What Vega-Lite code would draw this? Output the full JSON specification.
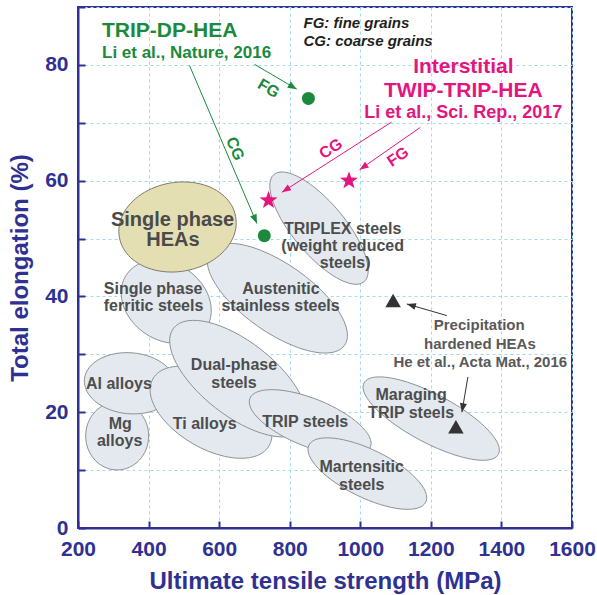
{
  "$schema": "https://vega.github.io/schema/vega-lite/v6.json",
  "width": 494,
  "height": 521,
  "autosize": "none",
  "padding": {"left": 78, "top": 7, "right": 25, "bottom": 67},
  "background": "white",
  "config": {
    "font": "Liberation Sans",
    "view": {"stroke": "#2e3192", "strokeWidth": 2},
    "axis": {
      "domainColor": "#2e3192",
      "domainWidth": 2,
      "tickColor": "#2e3192",
      "tickWidth": 2,
      "labelFont": "Liberation Sans",
      "labelFontSize": 21,
      "labelFontWeight": "bold",
      "labelColor": "#2e3192",
      "labelFlush": false,
      "labelOverlap": false,
      "titleFont": "Liberation Sans",
      "titleFontSize": 24,
      "titleFontWeight": "bold",
      "titleColor": "#2e3192",
      "gridColor": "#a5d9ee",
      "gridDash": [3, 3],
      "gridWidth": 1
    }
  },
  "datasets": {
    "materials": [
      {"material": "Mg alloys", "strength": 311, "elongation": 15.9},
      {"material": "Al alloys", "strength": 348, "elongation": 25.0},
      {"material": "Ti alloys", "strength": 577, "elongation": 20.0},
      {"material": "Single phase ferritic steels", "strength": 450, "elongation": 39.1},
      {"material": "Dual-phase steels", "strength": 654, "elongation": 25.8},
      {"material": "Austenitic stainless steels", "strength": 765, "elongation": 39.7},
      {"material": "TRIPLEX steels", "strength": 883, "elongation": 51.8},
      {"material": "Single phase HEAs", "strength": 482, "elongation": 52.0},
      {"material": "TRIP steels", "strength": 858, "elongation": 18.2},
      {"material": "Martensitic steels", "strength": 1020, "elongation": 9.4},
      {"material": "Maraging TRIP steels", "strength": 1201, "elongation": 18.9}
    ],
    "materialLabels": [
      {"line": "Single phase", "strength": 413, "elongation": 41.2},
      {"line": "ferritic steels", "strength": 414, "elongation": 38.3},
      {"line": "Austenitic", "strength": 775, "elongation": 41.3},
      {"line": "stainless steels", "strength": 774, "elongation": 38.3},
      {"line": "TRIPLEX steels", "strength": 950, "elongation": 51.7},
      {"line": "(weight reduced", "strength": 950, "elongation": 48.7},
      {"line": "steels)", "strength": 957, "elongation": 45.8},
      {"line": "Al alloys", "strength": 316, "elongation": 24.8},
      {"line": "Mg", "strength": 320, "elongation": 17.9},
      {"line": "alloys", "strength": 318, "elongation": 15.1},
      {"line": "Ti alloys", "strength": 559, "elongation": 18.0},
      {"line": "Dual-phase", "strength": 642, "elongation": 28.1},
      {"line": "steels", "strength": 642, "elongation": 25.1},
      {"line": "TRIP steels", "strength": 844, "elongation": 18.3},
      {"line": "Martensitic", "strength": 1004, "elongation": 10.5},
      {"line": "steels", "strength": 1004, "elongation": 7.5},
      {"line": "Maraging", "strength": 1144, "elongation": 22.9},
      {"line": "TRIP steels", "strength": 1144, "elongation": 19.9}
    ],
    "alloys": [
      {"alloy": "TRIP-DP-HEA", "grain": "FG", "strength": 853, "elongation": 74.2},
      {"alloy": "TRIP-DP-HEA", "grain": "CG", "strength": 728, "elongation": 50.5},
      {"alloy": "Interstitial TWIP-TRIP-HEA", "grain": "FG", "strength": 968, "elongation": 60.0},
      {"alloy": "Interstitial TWIP-TRIP-HEA", "grain": "CG", "strength": 740, "elongation": 56.6},
      {"alloy": "Precipitation hardened HEAs", "grain": "", "strength": 1093, "elongation": 39.3},
      {"alloy": "Precipitation hardened HEAs", "grain": "", "strength": 1271, "elongation": 17.5}
    ],
    "arrows": [
      {"arrow": "TRIP-DP-HEA FG", "alloy": "TRIP-DP-HEA", "strength": 700, "elongation": 80.1, "strength2": 820, "elongation2": 75.8},
      {"arrow": "TRIP-DP-HEA CG", "alloy": "TRIP-DP-HEA", "strength": 516, "elongation": 79.9, "strength2": 707, "elongation2": 52.6},
      {"arrow": "Interstitial CG", "alloy": "Interstitial TWIP-TRIP-HEA", "strength": 1088, "elongation": 70.1, "strength2": 778, "elongation2": 58.0},
      {"arrow": "Interstitial FG", "alloy": "Interstitial TWIP-TRIP-HEA", "strength": 1170, "elongation": 69.2, "strength2": 998, "elongation2": 61.9},
      {"arrow": "Precipitation 1", "alloy": "Precipitation hardened HEAs", "strength": 1245, "elongation": 36.7, "strength2": 1132, "elongation2": 38.7},
      {"arrow": "Precipitation 2", "alloy": "Precipitation hardened HEAs", "strength": 1305, "elongation": 26.1, "strength2": 1288, "elongation2": 20.0}
    ]
  },
  "resolve": {"scale": {"shape": "independent"}},
  "layer": [
    {
      "data": {"name": "materials"},
      "mark": {"type": "point", "filled": true, "opacity": 1, "size": 4, "strokeWidth": 1},
      "encoding": {
        "x": {
          "field": "strength",
          "type": "quantitative",
          "scale": {"domain": [200, 1600], "nice": false, "zero": false},
          "axis": {
            "title": "Ultimate tensile strength (MPa)",
            "values": [200, 300, 400, 500, 600, 700, 800, 900, 1000, 1100, 1200, 1300, 1400, 1500, 1600],
            "format": "d",
            "labelExpr": "datum.value % 200 === 0 ? datum.label : ''",
            "tickSize": -7,
            "gridOpacity": {"condition": {"test": "datum.value % 200 === 0", "value": 1}, "value": 0},
            "labelPadding": 17,
            "titlePadding": 10,
            "encode": {"ticks": {"update": {"y2": {"signal": "datum.value % 200 === 0 ? -7 : -4"}}}}
          }
        },
        "y": {
          "field": "elongation",
          "type": "quantitative",
          "scale": {"domain": [0, 90], "nice": false, "zero": false},
          "axis": {
            "title": "Total elongation (%)",
            "values": [0, 10, 20, 30, 40, 50, 60, 70, 80, 90],
            "format": "d",
            "labelExpr": "datum.value % 20 === 0 && datum.value < 90 ? datum.label : ''",
            "tickSize": -7,
            "labelPadding": 17,
            "titlePadding": 12,
            "encode": {"ticks": {"update": {"x2": {"signal": "datum.value % 20 === 0 ? 7 : 4"}}}}
          }
        },
        "shape": {
          "field": "material",
          "type": "nominal",
          "legend": null,
          "scale": {
            "domain": ["Mg alloys", "Al alloys", "Ti alloys", "Single phase ferritic steels", "Dual-phase steels", "Austenitic stainless steels", "TRIPLEX steels", "Single phase HEAs", "TRIP steels", "Martensitic steels", "Maraging TRIP steels"],
            "range": [
              "M31.5,0A31.5,34,0,1,1,-31.5,0A31.5,34,0,1,1,31.5,0Z",
              "M45.83,4.01A46,30.5,5,1,1,-45.83,-4.01A46,30.5,5,1,1,45.83,4.01Z",
              "M58.02,33.5A67,36,30,1,1,-58.02,-33.5A67,36,30,1,1,58.02,33.5Z",
              "M39.32,27.53A48,38,35,1,1,-39.32,-27.53A48,38,35,1,1,39.32,27.53Z",
              "M64.62,50.49A82,37,38,1,1,-64.62,-50.49A82,37,38,1,1,64.62,50.49Z",
              "M67.17,47.03A82,34,35,1,1,-67.17,-47.03A82,34,35,1,1,67.17,47.03Z",
              "M45,53.62A70,26,50,1,1,-45,-53.62A70,26,50,1,1,45,53.62Z",
              "M58.1,-10.24A59,44,-10,1,1,-58.1,10.24A59,44,-10,1,1,58.1,-10.24Z",
              "M60.27,24.35A65,24,22,1,1,-60.27,-24.35A65,24,22,1,1,60.27,24.35Z",
              "M58.42,28.5A65,24,26,1,1,-58.42,-28.5A65,24,26,1,1,58.42,28.5Z",
              "M67.1,35.68A76,24,28,1,1,-67.1,-35.68A76,24,28,1,1,67.1,35.68Z"
            ]
          }
        },
        "fill": {"condition": {"test": "datum.material === 'Single phase HEAs'", "value": "#e4dfb2"}, "value": "#e3e9ef"},
        "stroke": {"condition": {"test": "datum.material === 'Single phase HEAs'", "value": "#7d7a6a"}, "value": "#8e9296"}
      }
    },
    {
      "data": {"name": "materialLabels"},
      "mark": {"type": "text", "fontWeight": "bold", "fontSize": 16, "color": "#4d4d4d", "align": "center", "baseline": "middle"},
      "encoding": {
        "x": {"field": "strength", "type": "quantitative"},
        "y": {"field": "elongation", "type": "quantitative"},
        "text": {"field": "line"}
      }
    },
    {
      "data": {"values": [
        {"line": "Single phase", "strength": 468, "elongation": 53.2},
        {"line": "HEAs", "strength": 469, "elongation": 49.7}
      ]},
      "mark": {"type": "text", "fontWeight": "bold", "fontSize": 20, "color": "#4a4a4a", "align": "center", "baseline": "middle"},
      "encoding": {
        "x": {"field": "strength", "type": "quantitative"},
        "y": {"field": "elongation", "type": "quantitative"},
        "text": {"field": "line"}
      }
    },
    {
      "data": {"name": "arrows"},
      "mark": {"type": "rule", "strokeWidth": 1},
      "encoding": {
        "x": {"field": "strength", "type": "quantitative"},
        "y": {"field": "elongation", "type": "quantitative"},
        "x2": {"field": "strength2"},
        "y2": {"field": "elongation2"},
        "color": {
          "field": "alloy", "type": "nominal", "legend": null,
          "scale": {"domain": ["TRIP-DP-HEA", "Interstitial TWIP-TRIP-HEA", "Precipitation hardened HEAs"], "range": ["#1b8a3c", "#e5157f", "#333333"]}
        }
      }
    },
    {
      "data": {"name": "arrows"},
      "mark": {"type": "point", "filled": true, "opacity": 1, "size": 4},
      "encoding": {
        "x": {"field": "strength2", "type": "quantitative"},
        "y": {"field": "elongation2", "type": "quantitative"},
        "shape": {
          "field": "arrow", "type": "nominal", "legend": null,
          "scale": {
            "domain": ["TRIP-DP-HEA FG", "TRIP-DP-HEA CG", "Interstitial CG", "Interstitial FG", "Precipitation 1", "Precipitation 2"],
            "range": [
              "M0,0L-9.53,-1.55L-5.98,-7.58Z",
              "M0,0L-6.75,-6.91L-0.31,-9.65Z",
              "M0,0L5.70,-7.80L9.47,-1.90Z",
              "M0,0L5.41,-8.00L9.39,-2.25Z",
              "M0,0L9.62,-0.83L7.66,5.89Z",
              "M0,0L-1.93,-9.46L4.97,-8.28Z"
            ]
          }
        },
        "color": {
          "field": "alloy", "type": "nominal", "legend": null,
          "scale": {"domain": ["TRIP-DP-HEA", "Interstitial TWIP-TRIP-HEA", "Precipitation hardened HEAs"], "range": ["#1b8a3c", "#e5157f", "#333333"]}
        }
      }
    },
    {
      "data": {"name": "alloys"},
      "transform": [{"filter": "datum.alloy === 'TRIP-DP-HEA'"}],
      "mark": {"type": "point", "shape": "circle", "filled": true, "opacity": 1, "size": 169},
      "encoding": {
        "x": {"field": "strength", "type": "quantitative"},
        "y": {"field": "elongation", "type": "quantitative"},
        "color": {
          "field": "alloy", "type": "nominal", "legend": null,
          "scale": {"domain": ["TRIP-DP-HEA", "Interstitial TWIP-TRIP-HEA", "Precipitation hardened HEAs"], "range": ["#1b8a3c", "#e5157f", "#333333"]}
        }
      }
    },
    {
      "data": {"name": "alloys"},
      "transform": [{"filter": "datum.alloy === 'Interstitial TWIP-TRIP-HEA'"}],
      "mark": {
        "type": "point",
        "shape": "M0,-1L0.235,-0.324L0.951,-0.309L0.381,0.124L0.588,0.809L0,0.4L-0.588,0.809L-0.381,0.124L-0.951,-0.309L-0.235,-0.324Z",
        "filled": true, "opacity": 1, "size": 360
      },
      "encoding": {
        "x": {"field": "strength", "type": "quantitative"},
        "y": {"field": "elongation", "type": "quantitative"},
        "color": {
          "field": "alloy", "type": "nominal", "legend": null,
          "scale": {"domain": ["TRIP-DP-HEA", "Interstitial TWIP-TRIP-HEA", "Precipitation hardened HEAs"], "range": ["#1b8a3c", "#e5157f", "#333333"]}
        }
      }
    },
    {
      "data": {"name": "alloys"},
      "transform": [{"filter": "datum.alloy === 'Precipitation hardened HEAs'"}],
      "mark": {"type": "point", "shape": "triangle-up", "filled": true, "opacity": 1, "size": 240},
      "encoding": {
        "x": {"field": "strength", "type": "quantitative"},
        "y": {"field": "elongation", "type": "quantitative"},
        "color": {
          "field": "alloy", "type": "nominal", "legend": null,
          "scale": {"domain": ["TRIP-DP-HEA", "Interstitial TWIP-TRIP-HEA", "Precipitation hardened HEAs"], "range": ["#1b8a3c", "#e5157f", "#333333"]}
        }
      }
    },
    {
      "data": {"values": [{"note": "TRIP-DP-HEA", "strength": 268, "elongation": 85.8}]},
      "mark": {"type": "text", "fontWeight": "bold", "fontSize": 21, "color": "#1b8a3c", "align": "left", "baseline": "middle"},
      "encoding": {
        "x": {"field": "strength", "type": "quantitative"},
        "y": {"field": "elongation", "type": "quantitative"},
        "text": {"field": "note"}
      }
    },
    {
      "data": {"values": [{"note": "Li et al., Nature, 2016", "strength": 268, "elongation": 82.1}]},
      "mark": {"type": "text", "fontWeight": "bold", "fontSize": 17, "color": "#1b8a3c", "align": "left", "baseline": "middle"},
      "encoding": {
        "x": {"field": "strength", "type": "quantitative"},
        "y": {"field": "elongation", "type": "quantitative"},
        "text": {"field": "note"}
      }
    },
    {
      "data": {"values": [
        {"note": "Interstitial", "strength": 1292, "elongation": 79.7},
        {"note": "TWIP-TRIP-HEA", "strength": 1292, "elongation": 75.5}
      ]},
      "mark": {"type": "text", "fontWeight": "bold", "fontSize": 21, "color": "#e5157f", "align": "center", "baseline": "middle"},
      "encoding": {
        "x": {"field": "strength", "type": "quantitative"},
        "y": {"field": "elongation", "type": "quantitative"},
        "text": {"field": "note"}
      }
    },
    {
      "data": {"values": [{"note": "Li et al., Sci. Rep., 2017", "strength": 1292, "elongation": 71.7}]},
      "mark": {"type": "text", "fontWeight": "bold", "fontSize": 18, "color": "#e5157f", "align": "center", "baseline": "middle"},
      "encoding": {
        "x": {"field": "strength", "type": "quantitative"},
        "y": {"field": "elongation", "type": "quantitative"},
        "text": {"field": "note"}
      }
    },
    {
      "data": {"values": [
        {"note": "Precipitation", "strength": 1337, "elongation": 35.0},
        {"note": "hardened HEAs", "strength": 1339, "elongation": 31.7},
        {"note": "He et al., Acta Mat., 2016", "strength": 1340, "elongation": 28.6}
      ]},
      "mark": {"type": "text", "fontWeight": "bold", "fontSize": 15, "color": "#595959", "align": "center", "baseline": "middle"},
      "encoding": {
        "x": {"field": "strength", "type": "quantitative"},
        "y": {"field": "elongation", "type": "quantitative"},
        "text": {"field": "note"}
      }
    },
    {
      "data": {"values": [
        {"note": "FG: fine grains", "strength": 839, "elongation": 87.2},
        {"note": "CG: coarse grains", "strength": 839, "elongation": 84.2}
      ]},
      "mark": {"type": "text", "fontWeight": "bold", "fontStyle": "italic", "fontSize": 15, "color": "#231f20", "align": "left", "baseline": "middle"},
      "encoding": {
        "x": {"field": "strength", "type": "quantitative"},
        "y": {"field": "elongation", "type": "quantitative"},
        "text": {"field": "note"}
      }
    },
    {
      "data": {"values": [{"grain": "FG", "strength": 740, "elongation": 75.9}]},
      "mark": {"type": "text", "fontWeight": "bold", "fontSize": 16, "color": "#1b8a3c", "align": "center", "baseline": "middle", "angle": 30.5},
      "encoding": {
        "x": {"field": "strength", "type": "quantitative"},
        "y": {"field": "elongation", "type": "quantitative"},
        "text": {"field": "grain"}
      }
    },
    {
      "data": {"values": [{"grain": "CG", "strength": 645, "elongation": 65.5}]},
      "mark": {"type": "text", "fontWeight": "bold", "fontSize": 16, "color": "#1b8a3c", "align": "center", "baseline": "middle", "angle": 67},
      "encoding": {
        "x": {"field": "strength", "type": "quantitative"},
        "y": {"field": "elongation", "type": "quantitative"},
        "text": {"field": "grain"}
      }
    },
    {
      "data": {"values": [{"grain": "CG", "strength": 917, "elongation": 65.5}]},
      "mark": {"type": "text", "fontWeight": "bold", "fontSize": 16, "color": "#e5157f", "align": "center", "baseline": "middle", "angle": 327.4},
      "encoding": {
        "x": {"field": "strength", "type": "quantitative"},
        "y": {"field": "elongation", "type": "quantitative"},
        "text": {"field": "grain"}
      }
    },
    {
      "data": {"values": [{"grain": "FG", "strength": 1107, "elongation": 64.1}]},
      "mark": {"type": "text", "fontWeight": "bold", "fontSize": 16, "color": "#e5157f", "align": "center", "baseline": "middle", "angle": 325.3},
      "encoding": {
        "x": {"field": "strength", "type": "quantitative"},
        "y": {"field": "elongation", "type": "quantitative"},
        "text": {"field": "grain"}
      }
    }
  ]
}
